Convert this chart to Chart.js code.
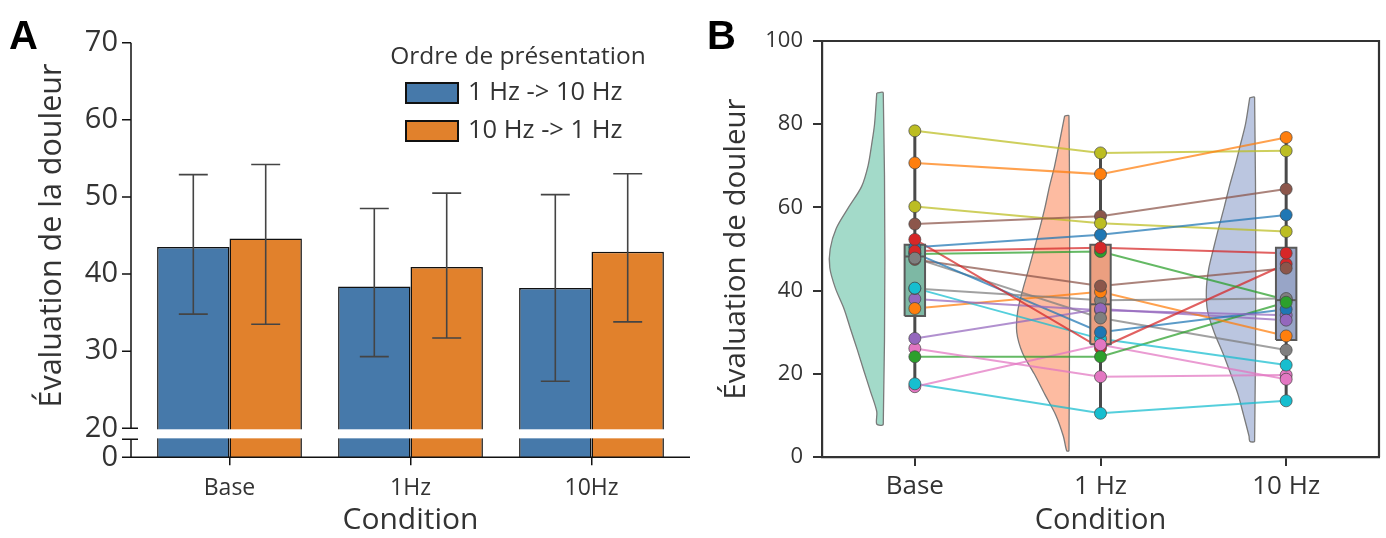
<!DOCTYPE html>
<html>
<head>
<meta charset="utf-8">
<script src="https://cdn.jsdelivr.net/npm/chart.js@4.4.0/dist/chart.umd.min.js"></script>
<style>
  body { margin: 0; background: #fff; width: 1386px; height: 538px; overflow: hidden; position: relative; }
  #wrapA { position: absolute; left: 0; top: 0; width: 700px; height: 538px; }
  #wrapB { position: absolute; left: 700px; top: 0; width: 686px; height: 538px; }
  .panel { position: absolute; font: bold 40px "Liberation Sans", sans-serif; line-height: 40px; color: #000; }
</style>
</head>
<body>
<div id="wrapA"><canvas id="chartA"></canvas></div>
<div id="wrapB"><canvas id="chartB"></canvas></div>
<div class="panel" style="left:9px;top:15px">A</div>
<div class="panel" style="left:707px;top:15px">B</div>
<script>
// ---- panel A : mean pain rating by presentation order ----
const conditionsA = ["Base", "1Hz", "10Hz"];
const mean1to10 = [43.5, 38.4, 38.2];
const mean10to1 = [44.6, 40.9, 42.9];
const low1to10 = [34.8, 29.3, 26.1];
const high1to10 = [52.9, 48.5, 50.3];
const low10to1 = [33.5, 31.7, 33.8];
const high10to1 = [54.2, 50.5, 53.0];
const ticksA = [20, 30, 40, 50, 60, 70];

// ---- panel B : individual ratings (20 subjects) ----
const conditionsB = ["Base", "1 Hz", "10 Hz"];
const ticksB = [0, 20, 40, 60, 80, 100];
const painBase = [50.4, 70.7, 48.8, 52.3, 38.0, 56.0, 26.1, 40.5, 78.4, 40.6,
                  49.0, 35.7, 24.1, 49.5, 28.5, 47.5, 16.9, 47.8, 60.2, 17.6];
const pain1Hz  = [53.4, 68.0, 49.4, 26.2, 35.3, 57.9, 19.3, 37.7, 73.1, 28.4,
                  30.0, 39.7, 24.1, 50.3, 35.6, 41.1, 27.0, 33.4, 56.2, 10.5];
const pain10Hz = [58.2, 76.8, 37.8, 46.4, 34.1, 64.4, 19.7, 38.1, 73.6, 22.1,
                  35.5, 29.1, 37.2, 49.0, 32.9, 45.4, 18.7, 25.7, 54.2, 13.5];
const boxQ1 = [33.9, 27.1, 28.1];
const boxMedian = [48.2, 36.7, 37.7];
const boxQ3 = [51.0, 51.0, 50.3];
const whiskerLow = [16.9, 10.5, 13.5];
const whiskerHigh = [78.4, 73.1, 76.8];
// half violins: rating levels (top to bottom) and density width in category units
const violinYBase = [87.5, 80, 75, 70, 65, 60, 55, 50, 45.5, 40.6, 35.6, 30.7, 25.8, 20.8, 15.9, 10.9, 7.9];
const violinWBase = [0.035, 0.047, 0.063, 0.082, 0.117, 0.187, 0.253, 0.286, 0.288, 0.258, 0.211, 0.176, 0.14, 0.105, 0.07, 0.035, 0.035];
const violinY1Hz = [82, 75, 70, 65, 60, 55, 50, 45, 40, 35, 30, 25, 20, 15, 10, 5, 1.5];
const violinW1Hz = [0.023, 0.054, 0.077, 0.105, 0.129, 0.157, 0.187, 0.218, 0.25, 0.276, 0.281, 0.25, 0.187, 0.129, 0.07, 0.03, 0.012];
const violinY10Hz = [86.4, 80, 75, 70, 65, 60, 55, 50, 45, 40, 35, 30, 25, 20, 15, 10, 5, 3.8];
const violinW10Hz = [0.026, 0.049, 0.077, 0.105, 0.136, 0.164, 0.194, 0.222, 0.248, 0.26, 0.253, 0.218, 0.171, 0.129, 0.089, 0.059, 0.03, 0.026];

const tab10 = ["#1f77b4", "#ff7f0e", "#2ca02c", "#d62728", "#9467bd",
               "#8c564b", "#e377c2", "#7f7f7f", "#bcbd22", "#17becf"];

Chart.defaults.font.family = "'Open Sans', sans-serif";
Chart.defaults.color = "#333";
Chart.defaults.animation = false;

// broken y axis for A: the "0" tick sits just under the break
const zeroA = 16.24;
const breakLow = 18.57;

const breakAxisPlugin = {
  id: "breakAxis",
  afterDatasetsDraw(chart) {
    const { ctx, chartArea } = chart;
    const y = chart.scales.y;
    const yTop = y.getPixelForValue(20);
    const yBot = y.getPixelForValue(breakLow);
    const spineX = chartArea.left - 8;
    ctx.save();
    // error bars
    const lows = [low1to10, low10to1];
    const highs = [high1to10, high10to1];
    ctx.strokeStyle = "#444";
    ctx.lineWidth = 1.6;
    for (let d = 0; d < 2; d++) {
      const meta = chart.getDatasetMeta(d);
      meta.data.forEach((bar, i) => {
        const x = bar.x;
        const capW = bar.width * 0.2;
        const y1 = y.getPixelForValue(lows[d][i]);
        const y2 = y.getPixelForValue(highs[d][i]);
        ctx.beginPath();
        ctx.moveTo(x, y1); ctx.lineTo(x, y2);
        ctx.moveTo(x - capW, y1); ctx.lineTo(x + capW, y1);
        ctx.moveTo(x - capW, y2); ctx.lineTo(x + capW, y2);
        ctx.stroke();
      });
    }
    // white band for the break
    ctx.fillStyle = "#fff";
    ctx.fillRect(chartArea.left - 2, yTop + 1, chartArea.right - chartArea.left + 4, yBot - yTop - 2);
    // offset spine, ticks, break caps and bottom axis line
    ctx.strokeStyle = "#111";
    ctx.lineWidth = 1.5;
    ctx.beginPath();
    ctx.moveTo(spineX, y.getPixelForValue(70)); ctx.lineTo(spineX, yTop);
    ctx.moveTo(spineX, yBot); ctx.lineTo(spineX, chartArea.bottom);
    y.ticks.forEach(t => {
      const py = y.getPixelForValue(t.value);
      ctx.moveTo(spineX - 9, py); ctx.lineTo(spineX, py);
    });
    ctx.moveTo(spineX - 9, yTop); ctx.lineTo(spineX + 7, yTop);
    ctx.moveTo(spineX - 9, yBot); ctx.lineTo(spineX + 7, yBot);
    ctx.moveTo(spineX, chartArea.bottom); ctx.lineTo(chartArea.right + 8, chartArea.bottom);
    ctx.stroke();
    // y title, centred on the upper segment of the broken axis
    ctx.fillStyle = "#333";
    ctx.font = "30.5px 'Open Sans', sans-serif";
    ctx.textAlign = "center";
    ctx.textBaseline = "middle";
    ctx.translate(52, (y.getPixelForValue(70) + yTop) / 2);
    ctx.rotate(-Math.PI / 2);
    ctx.fillText("Évaluation de la douleur", 0, 0);
    ctx.restore();
  }
};

const legendAPlugin = {
  id: "legendA",
  afterDraw(chart) {
    const { ctx } = chart;
    ctx.save();
    ctx.fillStyle = "#333";
    ctx.font = "24.5px 'Open Sans', sans-serif";
    ctx.textBaseline = "middle";
    ctx.textAlign = "center";
    ctx.fillText("Ordre de présentation", 518, 57);
    ctx.textAlign = "left";
    ctx.font = "25.5px 'Open Sans', sans-serif";
    chart.data.datasets.forEach((ds, i) => {
      const yc = 93 + i * 38;
      ctx.fillStyle = ds.backgroundColor;
      ctx.fillRect(406, yc - 10, 52, 20);
      ctx.strokeStyle = "#111";
      ctx.lineWidth = 2;
      ctx.strokeRect(406, yc - 10, 52, 20);
      ctx.fillStyle = "#333";
      ctx.fillText(ds.label, 468, yc);
    });
    ctx.restore();
  }
};

new Chart(document.getElementById("chartA"), {
  type: "bar",
  data: {
    labels: conditionsA,
    datasets: [
      { label: "1 Hz -> 10 Hz", data: mean1to10, backgroundColor: "#4679aa",
        borderColor: "#111", borderWidth: 1.5 },
      { label: "10 Hz -> 1 Hz", data: mean10to1, backgroundColor: "#e1812c",
        borderColor: "#111", borderWidth: 1.5 }
    ]
  },
  options: {
    responsive: true,
    maintainAspectRatio: false,
    layout: { padding: { top: 42.7, right: 18, bottom: 0, left: 0 } },
    datasets: { bar: { categoryPercentage: 0.8, barPercentage: 1.0 } },
    plugins: { legend: { display: false }, tooltip: { enabled: false } },
    scales: {
      x: {
        grid: { display: true, drawOnChartArea: false, offset: false, tickLength: 8, color: "#111", lineWidth: 1.5 },
        border: { display: false },
        ticks: { font: { size: 23 }, padding: 9 },
        title: { display: true, text: "Condition", font: { size: 30 }, padding: { top: 2, bottom: 0 } },
        afterFit(scale) { scale.height = 80.7; }
      },
      y: {
        min: zeroA,
        max: 70,
        afterBuildTicks(scale) {
          scale.ticks = [zeroA].concat(ticksA).map(v => ({ value: v }));
        },
        grid: { display: false, drawTicks: false },
        border: { display: false },
        ticks: {
          font: { size: 29 }, padding: 21, autoSkip: false,
          callback: v => (v === zeroA ? "0" : v)
        },
        afterFit(scale) { scale.width = 139; }
      }
    }
  },
  plugins: [breakAxisPlugin, legendAPlugin]
});

// ---- build panel B datasets ----
const violinOffset = 0.17;
const boxHalf = 0.055;
const violinFill = ["rgba(102,194,165,0.6)", "rgba(252,141,98,0.6)", "rgba(141,160,203,0.6)"];
const boxFill = ["#7db8a4", "#eb9f80", "#98a5c7"];

function violinShape(c, ys, ws) {
  const edge = c - violinOffset;
  const pts = ys.map((v, i) => ({ x: edge - ws[i], y: v }));
  pts.push({ x: edge, y: ys[ys.length - 1] });
  pts.push({ x: edge, y: ys[0] });
  pts.push({ x: pts[0].x, y: pts[0].y });
  return pts;
}

const datasetsB = [];
const violins = [[violinYBase, violinWBase], [violinY1Hz, violinW1Hz], [violinY10Hz, violinW10Hz]];
violins.forEach(([ys, ws], c) => {
  datasetsB.push({
    data: violinShape(c, ys, ws), order: 6, fill: "shape",
    backgroundColor: violinFill[c], borderColor: "#7a7a7a", borderWidth: 1.3,
    pointRadius: 0, tension: 0.3
  });
});
for (let i = 0; i < painBase.length; i++) {
  const col = tab10[i % 10];
  datasetsB.push({
    data: [{ x: 0, y: painBase[i] }, { x: 1, y: pain1Hz[i] }, { x: 2, y: pain10Hz[i] }],
    order: 5, borderColor: col + "bb", borderWidth: 2, pointRadius: 0, fill: false, tension: 0
  });
}
for (let c = 0; c < 3; c++) {
  datasetsB.push({
    data: [{ x: c, y: whiskerLow[c] }, { x: c, y: whiskerHigh[c] }],
    order: 4, borderColor: "#4a4a4a", borderWidth: 3, pointRadius: 0, fill: false
  });
  datasetsB.push({
    data: [{ x: c - boxHalf, y: boxQ1[c] }, { x: c + boxHalf, y: boxQ1[c] },
           { x: c + boxHalf, y: boxQ3[c] }, { x: c - boxHalf, y: boxQ3[c] },
           { x: c - boxHalf, y: boxQ1[c] }],
    order: 3, fill: "shape", backgroundColor: boxFill[c], borderColor: "#5a5a5a",
    borderWidth: 2, pointRadius: 0, tension: 0
  });
  datasetsB.push({
    data: [{ x: c - boxHalf, y: boxMedian[c] }, { x: c + boxHalf, y: boxMedian[c] }],
    order: 2, borderColor: "#5a5a5a", borderWidth: 2, pointRadius: 0, fill: false
  });
}
const allPoints = [];
const pointColors = [];
[painBase, pain1Hz, pain10Hz].forEach((arr, c) => {
  arr.forEach((v, i) => {
    allPoints.push({ x: c, y: v });
    pointColors.push(tab10[i % 10]);
  });
});
datasetsB.push({
  data: allPoints, order: 1, showLine: false, pointRadius: 6,
  pointBackgroundColor: pointColors, pointBorderColor: "rgba(70,70,70,0.7)", pointBorderWidth: 1
});

const frameBPlugin = {
  id: "frameB",
  afterDraw(chart) {
    const { ctx, chartArea } = chart;
    ctx.save();
    ctx.strokeStyle = "#333";
    ctx.lineWidth = 2.2;
    ctx.beginPath();
    ctx.moveTo(chartArea.left, chartArea.top);
    ctx.lineTo(chartArea.right, chartArea.top);
    ctx.lineTo(chartArea.right, chartArea.bottom);
    ctx.stroke();
    ctx.restore();
  }
};

new Chart(document.getElementById("chartB"), {
  type: "line",
  data: { datasets: datasetsB },
  options: {
    responsive: true,
    maintainAspectRatio: false,
    layout: { padding: { top: 41, right: 4, bottom: 0, left: 0 } },
    plugins: { legend: { display: false }, tooltip: { enabled: false } },
    scales: {
      x: {
        type: "linear", min: -0.5, max: 2.5,
        afterBuildTicks(scale) { scale.ticks = [0, 1, 2].map(v => ({ value: v })); },
        grid: { display: true, drawOnChartArea: false, tickLength: 9, color: "#333", lineWidth: 2 },
        border: { display: true, color: "#333", width: 2.2 },
        ticks: { font: { size: 26 }, padding: 5, callback: v => conditionsB[v] },
        title: { display: true, text: "Condition", font: { size: 29 }, padding: { top: 2, bottom: 0 } },
        afterFit(scale) { scale.height = 81; }
      },
      y: {
        min: 0, max: 100,
        afterBuildTicks(scale) { scale.ticks = ticksB.map(v => ({ value: v })); },
        grid: { display: true, drawOnChartArea: false, tickLength: 9, color: "#333", lineWidth: 2 },
        border: { display: true, color: "#333", width: 2.2 },
        ticks: { font: { size: 22 }, padding: 10 },
        title: { display: true, text: "Évaluation de douleur", font: { size: 29.5 }, padding: { top: 19, bottom: 0 } },
        afterFit(scale) { scale.width = 122; }
      }
    }
  },
  plugins: [frameBPlugin]
});
</script>
</body>
</html>
